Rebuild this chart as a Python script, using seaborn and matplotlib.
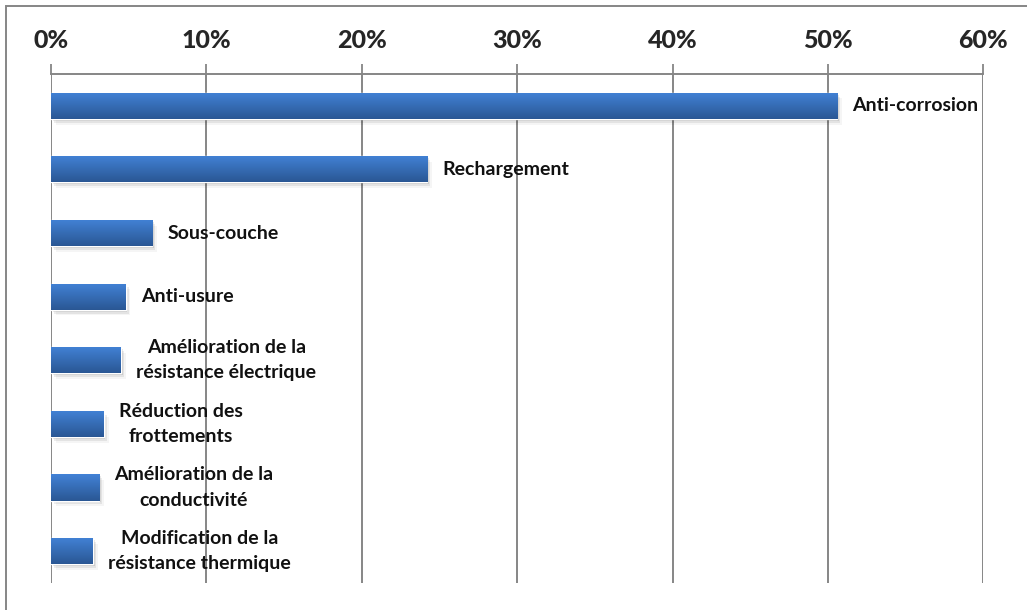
"""
plot.py

Horizontal bar chart: share of thermal spray coating applications.
"""

import matplotlib.pyplot as plt
import numpy as np
import pandas as pd
import seaborn as sns
from matplotlib.colors import LinearSegmentedColormap
from matplotlib.patches import Rectangle
from matplotlib.ticker import PercentFormatter

# ==========================================================
# Data
# ==========================================================

categories = [
    "Anti-corrosion",
    "Rechargement",
    "Sous-couche",
    "Anti-usure",
    "Amélioration de la\nrésistance électrique",
    "Réduction des\nfrottements",
    "Amélioration de la\nconductivité",
    "Modification de la\nrésistance thermique",
]
shares = [50.6, 24.2, 6.5, 4.8, 4.5, 3.4, 3.1, 2.7]
tick_values = [0, 10, 20, 30, 40, 50, 60]

df = pd.DataFrame({"Application": categories, "Share": shares})

# ==========================================================
# Figure
# ==========================================================

sns.set_style("white")
plt.rcParams["font.family"] = ["Lato", "DejaVu Sans"]

fig = plt.figure(figsize=(10.27, 6.10), dpi=100)
ax = fig.add_axes([0.0497, 0.0443, 0.9078, 0.8344])

sns.barplot(
    data=df,
    x="Share",
    y="Application",
    orient="h",
    color="#3a6fb8",
    width=0.41,
    ax=ax,
)

ax.set_xlim(0, 60)
ax.set_ylim(7.5, -0.5)

# vertical gradient (light on top, dark below) + soft shadow
grad = LinearSegmentedColormap.from_list("bar", ["#4282d6", "#2a5794"])
for patch in ax.patches[:]:
    x0, y0 = patch.get_x(), patch.get_y()
    w, h = patch.get_width(), patch.get_height()
    for k, a in enumerate([0.10, 0.07, 0.04]):
        ax.add_patch(
            Rectangle(
                (x0 + 0.1 * (k + 1), y0 + 0.03 * (k + 1)), w, h,
                facecolor="#000000", alpha=a, edgecolor="none", zorder=1,
            )
        )
    img = ax.imshow(
        np.linspace(0, 1, 64).reshape(-1, 1),
        cmap=grad,
        aspect="auto",
        origin="upper",
        extent=(x0, x0 + w, y0 + h, y0),
        zorder=2,
    )
    img.set_clip_path(patch)
    patch.set_zorder(2)

ax.set_xlim(0, 60)
ax.set_ylim(7.5, -0.5)

# value labels to the right of each bar
for i, (name, val) in enumerate(zip(categories, shares)):
    ax.annotate(
        name,
        xy=(val, i),
        xytext=(11, 0),
        textcoords="offset points",
        ha="left",
        va="center",
        multialignment="center",
        fontsize=14,
        fontweight="bold",
        color="#111111",
        linespacing=1.6,
        zorder=4,
    )

# axis on top
ax.xaxis.tick_top()
ax.set_xticks(tick_values)
ax.xaxis.set_major_formatter(PercentFormatter(decimals=0))
ax.tick_params(
    axis="x",
    top=True,
    bottom=False,
    direction="out",
    length=7,
    width=1.3,
    color="#868686",
    labelsize=18,
    pad=9,
)
for lab in ax.get_xticklabels():
    lab.set_fontweight("black")

ax.set_yticks([])
ax.set_xlabel("")
ax.set_ylabel("")

ax.grid(axis="x", color="#868686", linewidth=1.4, zorder=0)
ax.set_axisbelow(True)

for side in ["left", "right", "bottom"]:
    ax.spines[side].set_visible(False)
ax.spines["top"].set_color("#868686")
ax.spines["top"].set_linewidth(1.4)

# outer chart frame
fig.patches.append(
    Rectangle(
        (6 / 1027, -0.05),
        1.1,
        1.05 - 6 / 610,
        transform=fig.transFigure,
        fill=False,
        edgecolor="#868686",
        linewidth=1.4,
    )
)

fig.savefig("out.png", dpi=100)
plt.close(fig)
